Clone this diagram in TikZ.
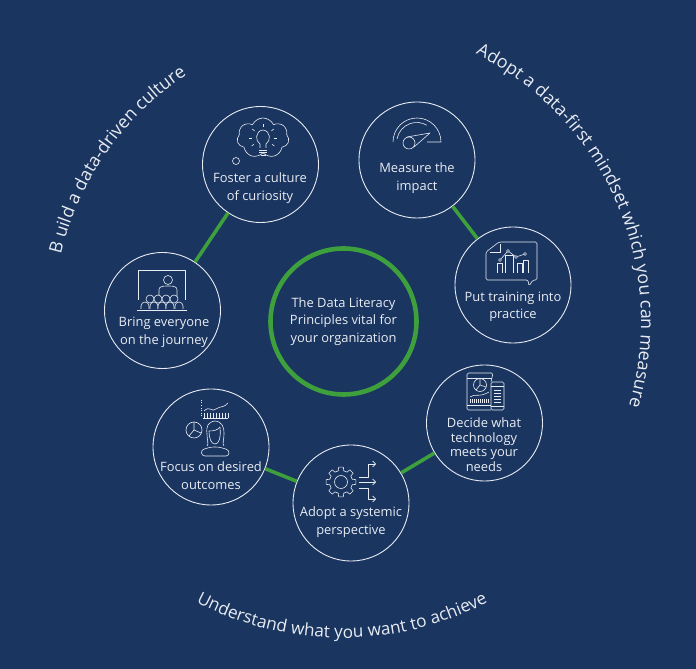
\documentclass[tikz,border=0pt]{standalone}
\usepackage{fontspec}
\setmainfont{Open Sans}
\usetikzlibrary{positioning,decorations.text,shapes.symbols,arrows.meta}
\definecolor{bgblue}{RGB}{26,53,96}
\definecolor{ringgreen}{RGB}{62,160,60}
\definecolor{softwhite}{RGB}{232,236,242}
\newcommand{\arcfont}{\fontsize{17.8}{20}\selectfont\color{softwhite}}
\newcommand{\lowarcfont}{\fontsize{17.2}{20}\selectfont\color{softwhite}}
\tikzset{
	x=1pt,y=1pt,
	stepcircle/.style={circle,draw=softwhite,line width=0.9pt,minimum size=116pt,inner sep=0pt},
	steptext/.style={text=softwhite,align=center,font=\fontsize{12.9}{17.5}\selectfont,inner sep=0pt},
	link/.style={draw=ringgreen,line width=3.6pt},
	icon/.style={draw=softwhite,line width=0.6pt,line join=round},
	iconarrow/.style={icon,-{Straight Barb[length=3pt,width=6pt]}},
	arctext/.style={decorate,decoration={text along path,text align=center,text={#1}}}
}
\begin{document}
\begin{tikzpicture}
	\fill[bgblue] (0,0) rectangle (696,669);
	\useasboundingbox (0,0) rectangle (696,669);

	% outer texts
	\path[arctext={|\arcfont|B uild a data-driven culture}] (350,346) ++(180:297) arc[start angle=180,end angle=110,radius=297];
	\path[arctext={|\arcfont|Adopt a data-first mindset which you can measure}] (341,347) ++(90:300) arc[start angle=90,end angle=-43,radius=300];
	\path[arctext={|\lowarcfont|Understand what you want to achieve}] (342,345) ++(235:314) arc[start angle=235,end angle=305,radius=314];

	% circles
	\node(core) [circle,draw=ringgreen,line width=4.6pt,minimum size=146pt,inner sep=0pt,steptext] at (343.5,347.5) {The Data Literacy\\Principles vital for\\your organization};
	\node(foster) [stepcircle] at (260.5,504.5) {};
	\node(bring) [stepcircle] at (162.5,358.5) {};
	\node(measure) [stepcircle] at (417,509) {};
	\node(put) [stepcircle] at (513,384) {};
	\node(focus) [stepcircle] at (211,222) {};
	\node(adopt) [stepcircle] at (351,166) {};
	\node(decide) [stepcircle] at (484.5,246) {};

	\draw[link] (foster) -- (bring);
	\draw[link] (measure) -- (put);
	\draw[link] (focus) -- (adopt);
	\draw[link] (adopt) -- (decide);

	\node(fostertext) [steptext] at (260,481) {Foster a culture\\of curiosity};
	\node(bringtext) [steptext] at (164,336.5) {Bring everyone\\on the journey};
	\node(measuretext) [steptext] at (417,491) {Measure the\\impact};
	\node(puttext) [steptext] at (513,362) {Put training into\\practice};
	\node(focustext) [steptext] at (211,193.5) {Focus on desired\\outcomes};
	\node(adopttext) [steptext] at (351,147) {Adopt a systemic\\perspective};
	\node(decidetext) [steptext,font=\fontsize{12.9}{14.5}\selectfont] at (484,224.5) {Decide what\\technology\\meets your\\needs};

	% bulb in a cloud
	\begin{scope}[shift={(263,531)}]
		\node(cloudicon) [cloud,cloud puffs=7,cloud puff arc=130,aspect=1.3,icon,minimum width=52pt,minimum height=40pt,inner sep=0pt] at (0,0) {};
		\draw[icon] (-27,-23) circle (3.5);
		\draw[icon] (-3,-10) -- (-3,-6) .. controls (-8,-3) and (-8,7) .. (0,8) .. controls (8,7) and (8,-3) .. (3,-6) -- (3,-10);
		\draw[icon] (-4,-12) -- (4,-12) (-4,-14.5) -- (4,-14.5) (-2.5,-17) -- (2.5,-17);
		\foreach \a in {0,40,90,140,180,215,325}
			\draw[icon] (\a:11) -- (\a:14);
	\end{scope}

	% gauge
	\begin{scope}[shift={(417,527)}]
		\draw[icon] (-24,0) arc[start angle=180,end angle=0,radius=24] -- (10,0);
		\draw[icon] (-20,3) arc[start angle=170,end angle=60,radius=20];
		\draw[icon] (-8,-1) circle (6);
		\draw[icon] (-10,5) -- (13,9) -- (-3,-5);
	\end{scope}

	% chart in a bubble
	\begin{scope}[shift={(486,389)}]
		\draw[icon,rounded corners=1.5pt] (0,0) -- (0,28) -- (13,38) -- (51,38) -- (51,0) -- (47,0) -- (43,-6) -- (42,0) -- cycle;
		\draw[icon] (4,28) -- (14,28) -- (14,36);
		\foreach \x/\w/\t in {11/5/17,19/8/25,31/5/17,37/5/20}
			\draw[icon] (\x,7) -- (\x,\t) -- (\x+\w,\t) -- (\x+\w,7);
		\draw[icon] (14,20) -- (22,29) -- (30,23) -- (39,26);
		\foreach \x/\y in {14/20,22/29,30/23,39/26}
			\draw[icon,fill=bgblue] (\x,\y) circle (1.5);
	\end{scope}

	% screen and audience
	\begin{scope}[shift={(162,400)}]
		\draw[icon] (-24,-31) -- (-24,-1) -- (23,-1) -- (23,-31);
		\draw[icon] (6,-11) circle (4.5);
		\draw[icon] (-3,-28) -- (-3,-21) .. controls (-3,-18) and (-1,-17) .. (6,-17) .. controls (13,-17) and (15,-18) .. (15,-21) -- (15,-28);
		\foreach \x in {-12,-4,4,12}
			\draw[icon,fill=bgblue] (\x,-30) circle (4);
		\foreach \x in {-17,-8,0,8,17}
			\draw[icon,fill=bgblue] (\x-4,-40) -- (\x-4,-37) arc[start angle=180,end angle=0,radius=4] -- (\x+4,-40);
		\draw[icon] (-25,-41) -- (25,-41);
	\end{scope}

	% woman with charts
	\begin{scope}[shift={(215,253)}]
		\draw[icon,dotted] (-14,0) -- (-14,16);
		\foreach \x in {-11,-8,...,13}
			\draw[icon] (\x,-2) -- (\x,3);
		\draw[icon] (-12,-2) -- (13,-2);
		\draw[icon] (-11,5) .. controls (-5,11) and (-3,3) .. (1,7) .. controls (5,10) and (9,8) .. (13,13);
		\begin{scope}[shift={(0,12)}]
			\draw[icon] (-21,-26) circle (8);
			\draw[icon] (-21,-26) -- (-21,-18) (-21,-26) -- (-14,-29) (-21,-26) -- (-26,-32);
			\draw[icon] (-8,-30) .. controls (-9,-22) and (-7,-18) .. (0,-17) .. controls (7,-18) and (9,-22) .. (9,-30) .. controls (9,-36) and (7,-40) .. (9,-42);
			\draw[icon] (-8,-30) .. controls (-8,-36) and (-6,-40) .. (-8,-42);
			\draw[icon] (-6,-27) .. controls (-1,-27) and (3,-26) .. (5,-23) .. controls (6,-34) and (4,-40) .. (0,-40) .. controls (-4,-40) and (-6,-34) .. (-6,-27);
			\draw[icon,rounded corners=3pt] (-13,-52) -- (-14,-46) -- (-4,-43) -- (4,-43) -- (14,-46) -- (14,-52) -- cycle;
		\end{scope}
	\end{scope}

	% gear and arrows
	\begin{scope}[shift={(341,187)}]
		\draw[icon] (0,0) circle (6.5);
		\foreach \a in {0,45,...,315}
			\draw[icon] (\a-9:15) -- (\a+9:15) -- (\a+14:11.5) -- (\a+31:11.5) -- (\a+36:15);
		\draw[iconarrow] (18,5) -- (27,5) -- (27,18) -- (35,18);
		\draw[iconarrow] (18,0) -- (35,0);
		\draw[iconarrow] (18,-6) -- (27,-6) -- (27,-17) -- (35,-17);
	\end{scope}

	% tablet and phone
	\begin{scope}[shift={(467,259)}]
		\draw[icon,rounded corners=1.5pt] (24,28) -- (26,37) -- (0,37) -- (0,0) -- (24,0);
		\draw[icon] (0,5) -- (24,5) (0,32) -- (25,32);
		\draw[icon,rounded corners=1.5pt] (24,0) rectangle (37,28);
		\draw[icon] (24,24) -- (37,24) (24,4) -- (37,4);
		\draw[icon] (13,25) circle (6.5);
		\draw[icon] (13,25) -- (13,31.5) (13,25) -- (19,23) (13,25) -- (9,20);
		\foreach \x in {3,5,...,21}
			\draw[icon] (\x,7) -- (\x,11);
		\draw[icon] (3,13) .. controls (8,17) and (12,12) .. (22,18);
		\foreach \y in {8,11,14,17,20}
			\draw[icon] (27,\y) -- (34,\y);
	\end{scope}
\end{tikzpicture}
\end{document}
